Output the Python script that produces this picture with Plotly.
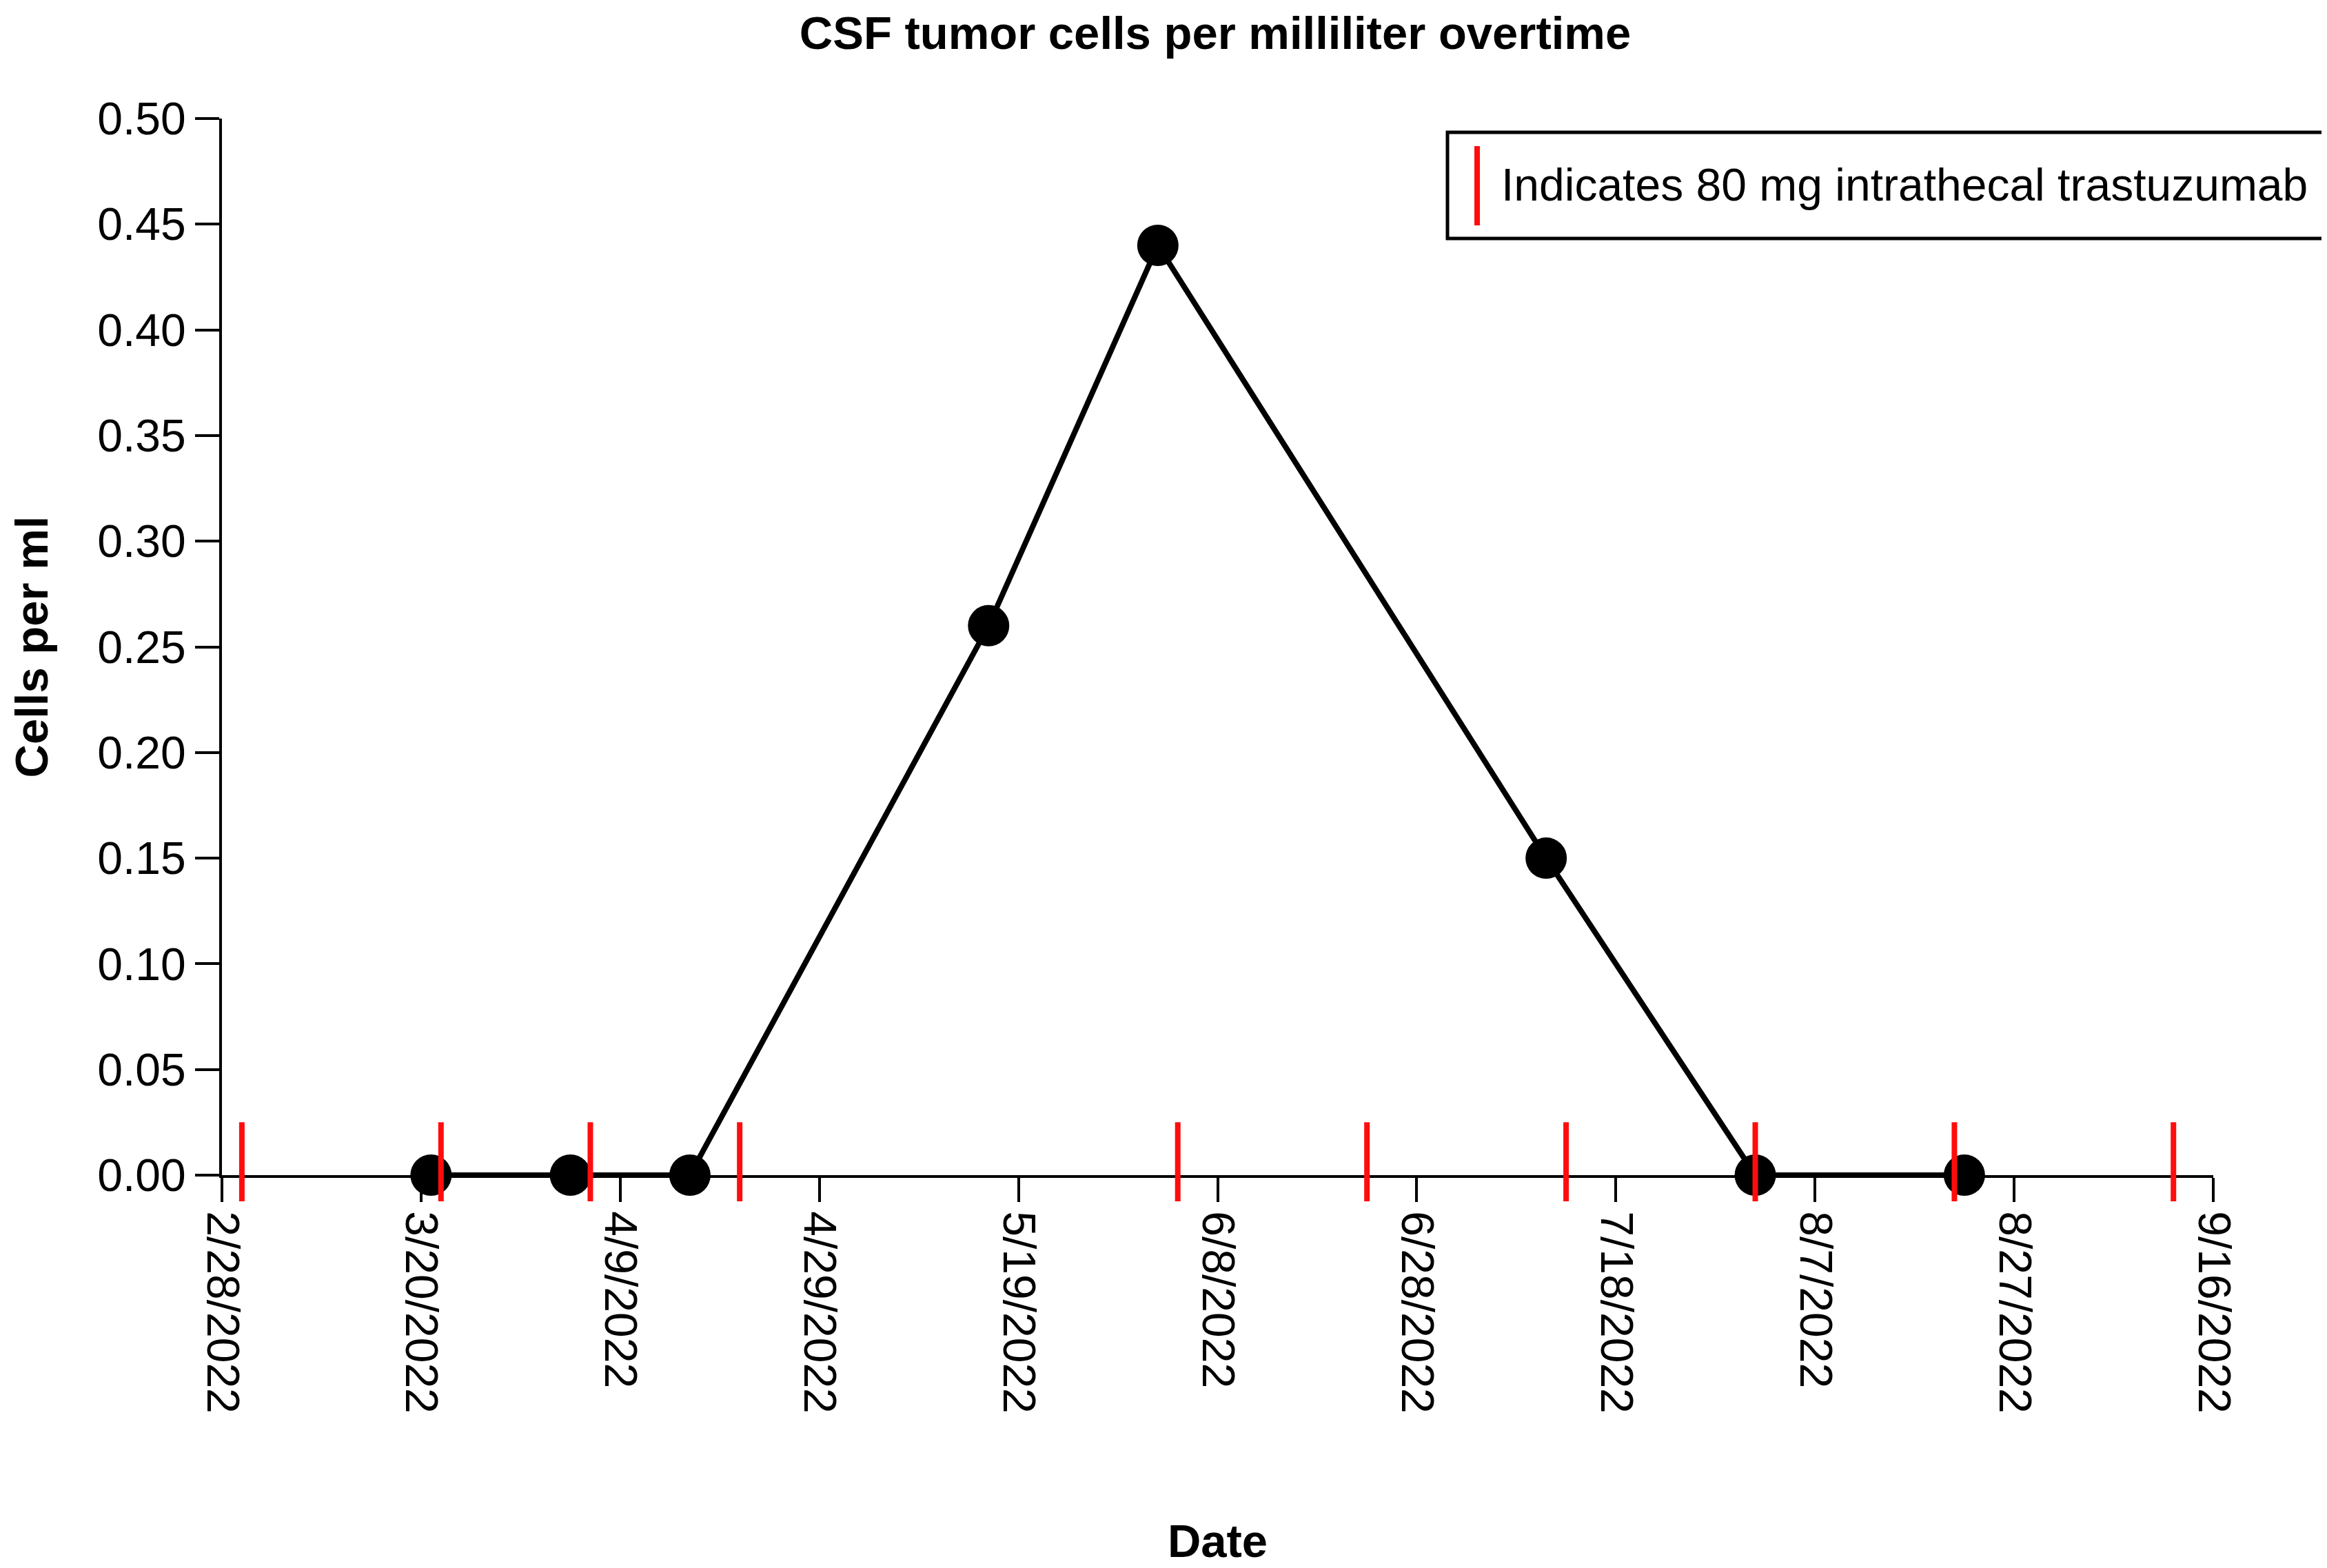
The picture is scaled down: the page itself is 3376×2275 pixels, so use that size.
import plotly.graph_objects as go

# ---- data ----
sample_dates = ["2022-03-21", "2022-04-04", "2022-04-16", "2022-05-16",
                "2022-06-02", "2022-07-11", "2022-08-01", "2022-08-22"]
cells_per_ml = [0.0, 0.0, 0.0, 0.26, 0.44, 0.15, 0.0, 0.0]

dose_dates = ["2022-03-02", "2022-03-22", "2022-04-06", "2022-04-21", "2022-06-04",
              "2022-06-23", "2022-07-13", "2022-08-01", "2022-08-21", "2022-09-12"]

x_tick_vals = ["2022-02-28", "2022-03-20", "2022-04-09", "2022-04-29", "2022-05-19",
               "2022-06-08", "2022-06-28", "2022-07-18", "2022-08-07", "2022-08-27",
               "2022-09-16"]
x_tick_text = ["2/28/2022", "3/20/2022", "4/9/2022", "4/29/2022", "5/19/2022",
               "6/8/2022", "6/28/2022", "7/18/2022", "8/7/2022", "8/27/2022",
               "9/16/2022"]
y_tick_vals = [0.00, 0.05, 0.10, 0.15, 0.20, 0.25, 0.30, 0.35, 0.40, 0.45, 0.50]
y_tick_text = ["0.00", "0.05", "0.10", "0.15", "0.20", "0.25", "0.30", "0.35",
               "0.40", "0.45", "0.50"]

FONT = "Liberation Sans, Arial, Helvetica, sans-serif"
W, H = 3376, 2275
L, R, T, B = 314, 173, 164, 578
PW, PH = W - L - R, H - T - B


def px_x(p):
    return (p - L) / PW


def px_y(p):
    return (H - B - p) / PH


fig = go.Figure()

fig.add_trace(go.Scatter(
    x=sample_dates, y=cells_per_ml,
    mode="lines+markers",
    line=dict(color="black", width=8),
    marker=dict(color="black", size=60),
    cliponaxis=False,
    showlegend=False,
    hoverinfo="x+y",
))

# red dose indicators (vertical tick marks sitting on the x axis)
fig.add_trace(go.Scatter(
    x=dose_dates, y=[0.0063] * len(dose_dates),
    mode="markers",
    marker=dict(symbol="line-ns", size=82, color="#ff0d0d",
                line=dict(color="#ff0d0d", width=8)),
    cliponaxis=False,
    showlegend=False,
    hoverinfo="x",
))

axis_common = dict(
    showline=True, linecolor="black", linewidth=4,
    ticks="outside", ticklen=35, tickwidth=4, tickcolor="black",
    showgrid=False, zeroline=False, layer="below traces",
    tickfont=dict(family=FONT, size=66, color="black"),
)

TITLE_FONT = dict(family=FONT, size=67, color="black", weight="bold")

fig.update_layout(
    width=W, height=H,
    margin=dict(l=L, r=R, t=T, b=B, autoexpand=False),
    paper_bgcolor="white", plot_bgcolor="white",
    font=dict(family=FONT, color="black"),
    title=dict(text="CSF tumor cells per milliliter overtime",
               font=TITLE_FONT,
               x=px_x(1755), xref="paper", xanchor="center",
               y=1 - 40 / H, yref="container", yanchor="middle"),
    xaxis=dict(
        range=["2022-02-28", "2022-09-16"],
        tickmode="array", tickvals=x_tick_vals, ticktext=x_tick_text,
        tickangle=90,
        title=dict(text="Date", standoff=163, font=TITLE_FONT),
        **axis_common,
    ),
    yaxis=dict(
        range=[0, 0.5],
        tickmode="array", tickvals=y_tick_vals, ticktext=y_tick_text,
        title=dict(text="Cells per ml", standoff=93, font=TITLE_FONT),
        **axis_common,
    ),
)

# legend drawn as a boxed key
fig.add_shape(type="rect", xref="paper", yref="paper",
              x0=px_x(2092), x1=px_x(3371), y0=px_y(338), y1=px_y(184),
              line=dict(color="black", width=5), fillcolor="white", layer="above")
fig.add_shape(type="line", xref="paper", yref="paper",
              x0=px_x(2135), x1=px_x(2135), y0=px_y(319), y1=px_y(204),
              line=dict(color="#ff0d0d", width=8), layer="above")
fig.add_annotation(text="Indicates 80 mg intrathecal trastuzumab",
                   xref="paper", yref="paper", x=px_x(2168), y=px_y(260),
                   xanchor="left", yanchor="middle", showarrow=False,
                   font=dict(family=FONT, size=66, color="black"))

fig.write_html("out.html")
